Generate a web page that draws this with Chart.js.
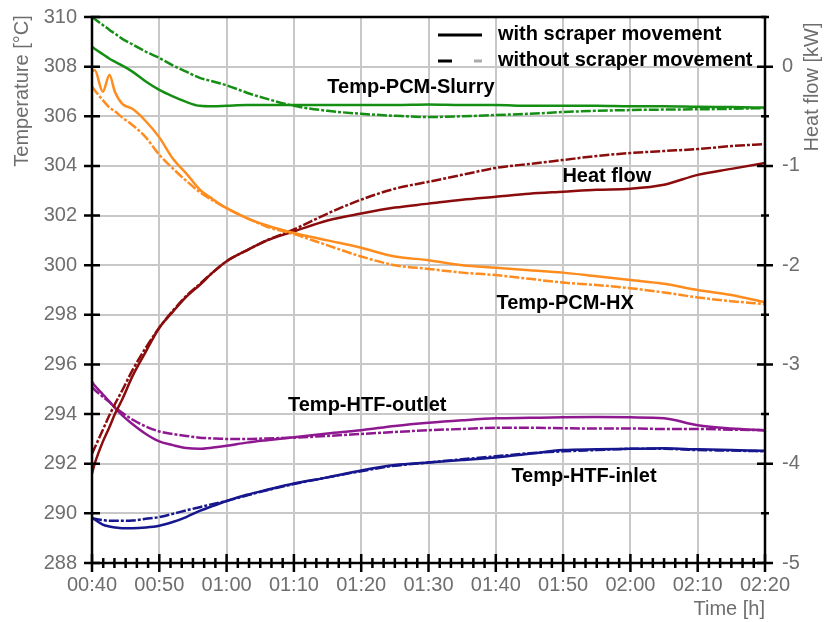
<!DOCTYPE html>
<html>
<head>
<meta charset="utf-8">
<script src="https://cdn.jsdelivr.net/npm/chart.js@4.4.1/dist/chart.umd.min.js"></script>
<style>
  html, body { margin: 0; padding: 0; background: #fff; }
</style>
</head>
<body>
<canvas id="chart" width="826" height="622"></canvas>
<script>
// Time in minutes after midnight (00:40 ... 02:20)
const timeMin = [40, 40.4, 41.6, 42.6, 43.4, 44.5, 46, 48, 50, 52, 54, 56, 58, 60, 63, 66, 70, 75, 80, 85, 90, 95, 100, 105, 110, 115, 120, 125, 130, 135, 140];

// Temp-PCM-Slurry [°C]
const slurryWith = [308.8, 308.72, 308.5, 308.32, 308.2, 308.04, 307.8, 307.4, 307.06, 306.8, 306.58, 306.42, 306.4, 306.42, 306.45, 306.45, 306.45, 306.45, 306.45, 306.45, 306.47, 306.45, 306.45, 306.42, 306.42, 306.42, 306.4, 306.4, 306.38, 306.37, 306.35];
const slurryWithout = [310.0, 309.92, 309.68, 309.48, 309.33, 309.12, 308.9, 308.6, 308.35, 308.05, 307.8, 307.55, 307.4, 307.25, 306.95, 306.7, 306.42, 306.22, 306.1, 306.02, 305.97, 306.0, 306.05, 306.1, 306.17, 306.22, 306.25, 306.27, 306.28, 306.3, 306.33];

// Temp-PCM-HX [°C]
const hxWith = [307.8, 307.86, 306.99, 307.66, 306.99, 306.5, 306.3, 305.8, 305.15, 304.3, 303.7, 303.05, 302.65, 302.3, 301.9, 301.6, 301.3, 301.0, 300.7, 300.35, 300.2, 300.0, 299.9, 299.8, 299.7, 299.55, 299.4, 299.25, 299.0, 298.8, 298.5];
const hxWithout = [307.2, 307.05, 306.65, 306.35, 306.2, 305.95, 305.65, 305.15, 304.45, 303.9, 303.4, 302.95, 302.6, 302.3, 301.9, 301.55, 301.25, 300.8, 300.35, 300.0, 299.85, 299.7, 299.6, 299.45, 299.3, 299.2, 299.07, 298.9, 298.7, 298.55, 298.43];

// Heat flow [kW]
const heatWith = [-4.1, -4.0, -3.78, -3.63, -3.5, -3.35, -3.12, -2.87, -2.63, -2.47, -2.32, -2.2, -2.07, -1.96, -1.85, -1.75, -1.66, -1.55, -1.48, -1.42, -1.38, -1.34, -1.31, -1.28, -1.26, -1.24, -1.23, -1.19, -1.09, -1.03, -0.97];
const heatWithout = [-3.9, -3.84, -3.66, -3.51, -3.4, -3.26, -3.06, -2.83, -2.63, -2.46, -2.31, -2.19, -2.07, -1.96, -1.85, -1.75, -1.64, -1.48, -1.34, -1.23, -1.16, -1.09, -1.02, -0.98, -0.94, -0.9, -0.87, -0.85, -0.83, -0.8, -0.78];

// Temp-HTF-outlet [°C]
const outletWith = [295.3, 295.15, 294.8, 294.5, 294.25, 293.95, 293.6, 293.2, 292.9, 292.75, 292.63, 292.6, 292.65, 292.72, 292.85, 292.95, 293.07, 293.22, 293.35, 293.52, 293.65, 293.75, 293.83, 293.85, 293.87, 293.88, 293.87, 293.83, 293.55, 293.42, 293.35];
const outletWithout = [295.1, 294.98, 294.7, 294.48, 294.28, 294.05, 293.78, 293.5, 293.3, 293.2, 293.12, 293.05, 293.02, 293.0, 293.0, 293.02, 293.05, 293.12, 293.2, 293.28, 293.35, 293.4, 293.45, 293.45, 293.43, 293.42, 293.42, 293.4, 293.4, 293.37, 293.35];

// Temp-HTF-inlet [°C]
const inletWith = [289.84, 289.75, 289.55, 289.47, 289.43, 289.4, 289.4, 289.43, 289.5, 289.65, 289.85, 290.1, 290.3, 290.5, 290.75, 290.95, 291.2, 291.45, 291.73, 291.95, 292.05, 292.15, 292.25, 292.4, 292.55, 292.58, 292.6, 292.62, 292.58, 292.55, 292.52];
const inletWithout = [289.8, 289.78, 289.73, 289.7, 289.7, 289.7, 289.71, 289.78, 289.85, 289.98, 290.12, 290.25, 290.38, 290.5, 290.72, 290.93, 291.18, 291.45, 291.7, 291.92, 292.05, 292.18, 292.3, 292.42, 292.5, 292.55, 292.6, 292.6, 292.55, 292.53, 292.5];

// Curve names, placed in data coordinates (minutes, °C)
const curveLabels = [
  { text: "Temp-PCM-Slurry", t: 87.4, v: 307.14 },
  { text: "Heat flow", t: 116.5, v: 303.59 },
  { text: "Temp-PCM-HX", t: 110.3, v: 298.47 },
  { text: "Temp-HTF-outlet", t: 80.9, v: 294.35 },
  { text: "Temp-HTF-inlet", t: 113.1, v: 291.5 },
];

const legendItems = ["with scraper movement", "without scraper movement"];

const fontFamily = '"Liberation Sans", Arial, Helvetica, sans-serif';
const gray = "#6e6e6e";
const dashPattern = [10, 2, 3, 2];

const toPoints = (values) => timeMin.map((t, i) => ({ x: t, y: values[i] }));

const makeLine = (values, color, dashed, axis) => ({
  data: toPoints(values),
  borderColor: color,
  borderWidth: 2.5,
  borderDash: dashed ? dashPattern : [],
  pointRadius: 0,
  cubicInterpolationMode: "monotone",
  fill: false,
  yAxisID: axis || "y",
});

const fmtTime = (v) => {
  const h = Math.floor(v / 60);
  const m = Math.round(v - h * 60);
  return String(h).padStart(2, "0") + ":" + String(m).padStart(2, "0");
};

// Frame, crossing tick marks, axis titles, curve names and legend.
const decorations = {
  id: "decorations",
  afterDatasetsDraw(chart) {
    const { ctx, chartArea: a, scales } = chart;
    const sx = scales.x, sy = scales.y, sy1 = scales.y1;
    ctx.save();
    ctx.strokeStyle = "#000";
    ctx.lineWidth = 2.5;
    ctx.strokeRect(a.left, a.top, a.right - a.left, a.bottom - a.top);

    ctx.beginPath();
    // x ticks: major every 10 min, minor every 10/6 min
    for (let k = 0; k <= 60; k++) {
      const px = sx.getPixelForValue(40 + (k * 10) / 6);
      const len = k % 6 === 0 ? 9 : 5;
      ctx.moveTo(px, a.bottom - len);
      ctx.lineTo(px, a.bottom + len);
    }
    // left ticks
    for (let v = 288; v <= 310; v += 2) {
      const py = sy.getPixelForValue(v);
      ctx.moveTo(a.left - 8, py);
      ctx.lineTo(a.left + 8, py);
    }
    // right ticks
    for (let k = 0; k <= 11; k++) {
      const v = -5 + k * 0.5;
      const py = sy1.getPixelForValue(v);
      const len = k % 2 === 0 ? 8 : 4;
      ctx.moveTo(a.right - len, py);
      ctx.lineTo(a.right + len, py);
    }
    ctx.stroke();

    // axis titles
    ctx.fillStyle = gray;
    ctx.font = "20px " + fontFamily;
    ctx.textAlign = "center";
    ctx.textBaseline = "middle";
    ctx.save();
    ctx.translate(22, 91);
    ctx.rotate(-Math.PI / 2);
    ctx.fillText("Temperature [°C]", 0, 0);
    ctx.restore();
    ctx.save();
    ctx.translate(812, 87);
    ctx.rotate(-Math.PI / 2);
    ctx.fillText("Heat flow [kW]", 0, 0);
    ctx.restore();
    ctx.textAlign = "right";
    ctx.fillText("Time [h]", a.right, 609);

    // curve names
    ctx.fillStyle = "#000";
    ctx.font = "bold 20px " + fontFamily;
    ctx.textAlign = "center";
    curveLabels.forEach((l) => {
      ctx.fillText(l.text, sx.getPixelForValue(l.t), sy.getPixelForValue(l.v));
    });

    // legend
    ctx.textAlign = "left";
    ctx.fillText(legendItems[0], 498, 34);
    ctx.fillText(legendItems[1], 498, 60);
    ctx.lineWidth = 3;
    ctx.beginPath();
    ctx.moveTo(438, 35);
    ctx.lineTo(482, 35);
    ctx.moveTo(438, 61);
    ctx.lineTo(452, 61);
    ctx.stroke();
    ctx.strokeStyle = "#aaaaaa";
    ctx.beginPath();
    ctx.moveTo(474, 61);
    ctx.lineTo(482, 61);
    ctx.stroke();
    ctx.restore();
  },
};

const fitVertical = (w) => (s) => {
  s.width = w;
  s.paddingTop = 0;
  s.paddingBottom = 0;
};

new Chart(document.getElementById("chart"), {
  type: "line",
  data: {
    datasets: [
      makeLine(slurryWith, "#148f14", false),
      makeLine(slurryWithout, "#148f14", true),
      makeLine(hxWith, "#ff8c1e", false),
      makeLine(hxWithout, "#ff8c1e", true),
      makeLine(heatWith, "#8b0c0c", false, "y1"),
      makeLine(heatWithout, "#8b0c0c", true, "y1"),
      makeLine(outletWith, "#8e1890", false),
      makeLine(outletWithout, "#8e1890", true),
      makeLine(inletWith, "#16168e", false),
      makeLine(inletWithout, "#16168e", true),
    ],
  },
  options: {
    responsive: false,
    animation: false,
    layout: { padding: { top: 17, left: 0, right: 0, bottom: 0 } },
    plugins: {
      legend: { display: false },
      tooltip: { enabled: false },
    },
    scales: {
      x: {
        type: "linear",
        min: 40,
        max: 140,
        ticks: {
          stepSize: 10,
          padding: 10,
          color: gray,
          font: { size: 20, family: fontFamily },
          maxRotation: 0,
          autoSkip: false,
          callback: fmtTime,
        },
        grid: { color: "#c8c8c8", lineWidth: 2, drawTicks: false },
        border: { display: false },
        afterFit: (s) => {
          s.height = 59;
          s.paddingLeft = 0;
          s.paddingRight = 0;
        },
      },
      y: {
        position: "left",
        min: 288,
        max: 310,
        ticks: {
          stepSize: 2,
          padding: 15,
          color: gray,
          font: { size: 20, family: fontFamily },
        },
        grid: { color: "#c8c8c8", lineWidth: 2, drawTicks: false },
        border: { display: false },
        afterFit: fitVertical(92),
      },
      y1: {
        position: "right",
        min: -5,
        max: 0.5,
        ticks: {
          stepSize: 0.5,
          padding: 17,
          color: gray,
          font: { size: 20, family: fontFamily },
          callback: (v) => (Number.isInteger(v) ? String(v) : ""),
        },
        grid: { display: false, drawTicks: false },
        border: { display: false },
        afterFit: fitVertical(61),
      },
    },
  },
  plugins: [decorations],
});
</script>
</body>
</html>
